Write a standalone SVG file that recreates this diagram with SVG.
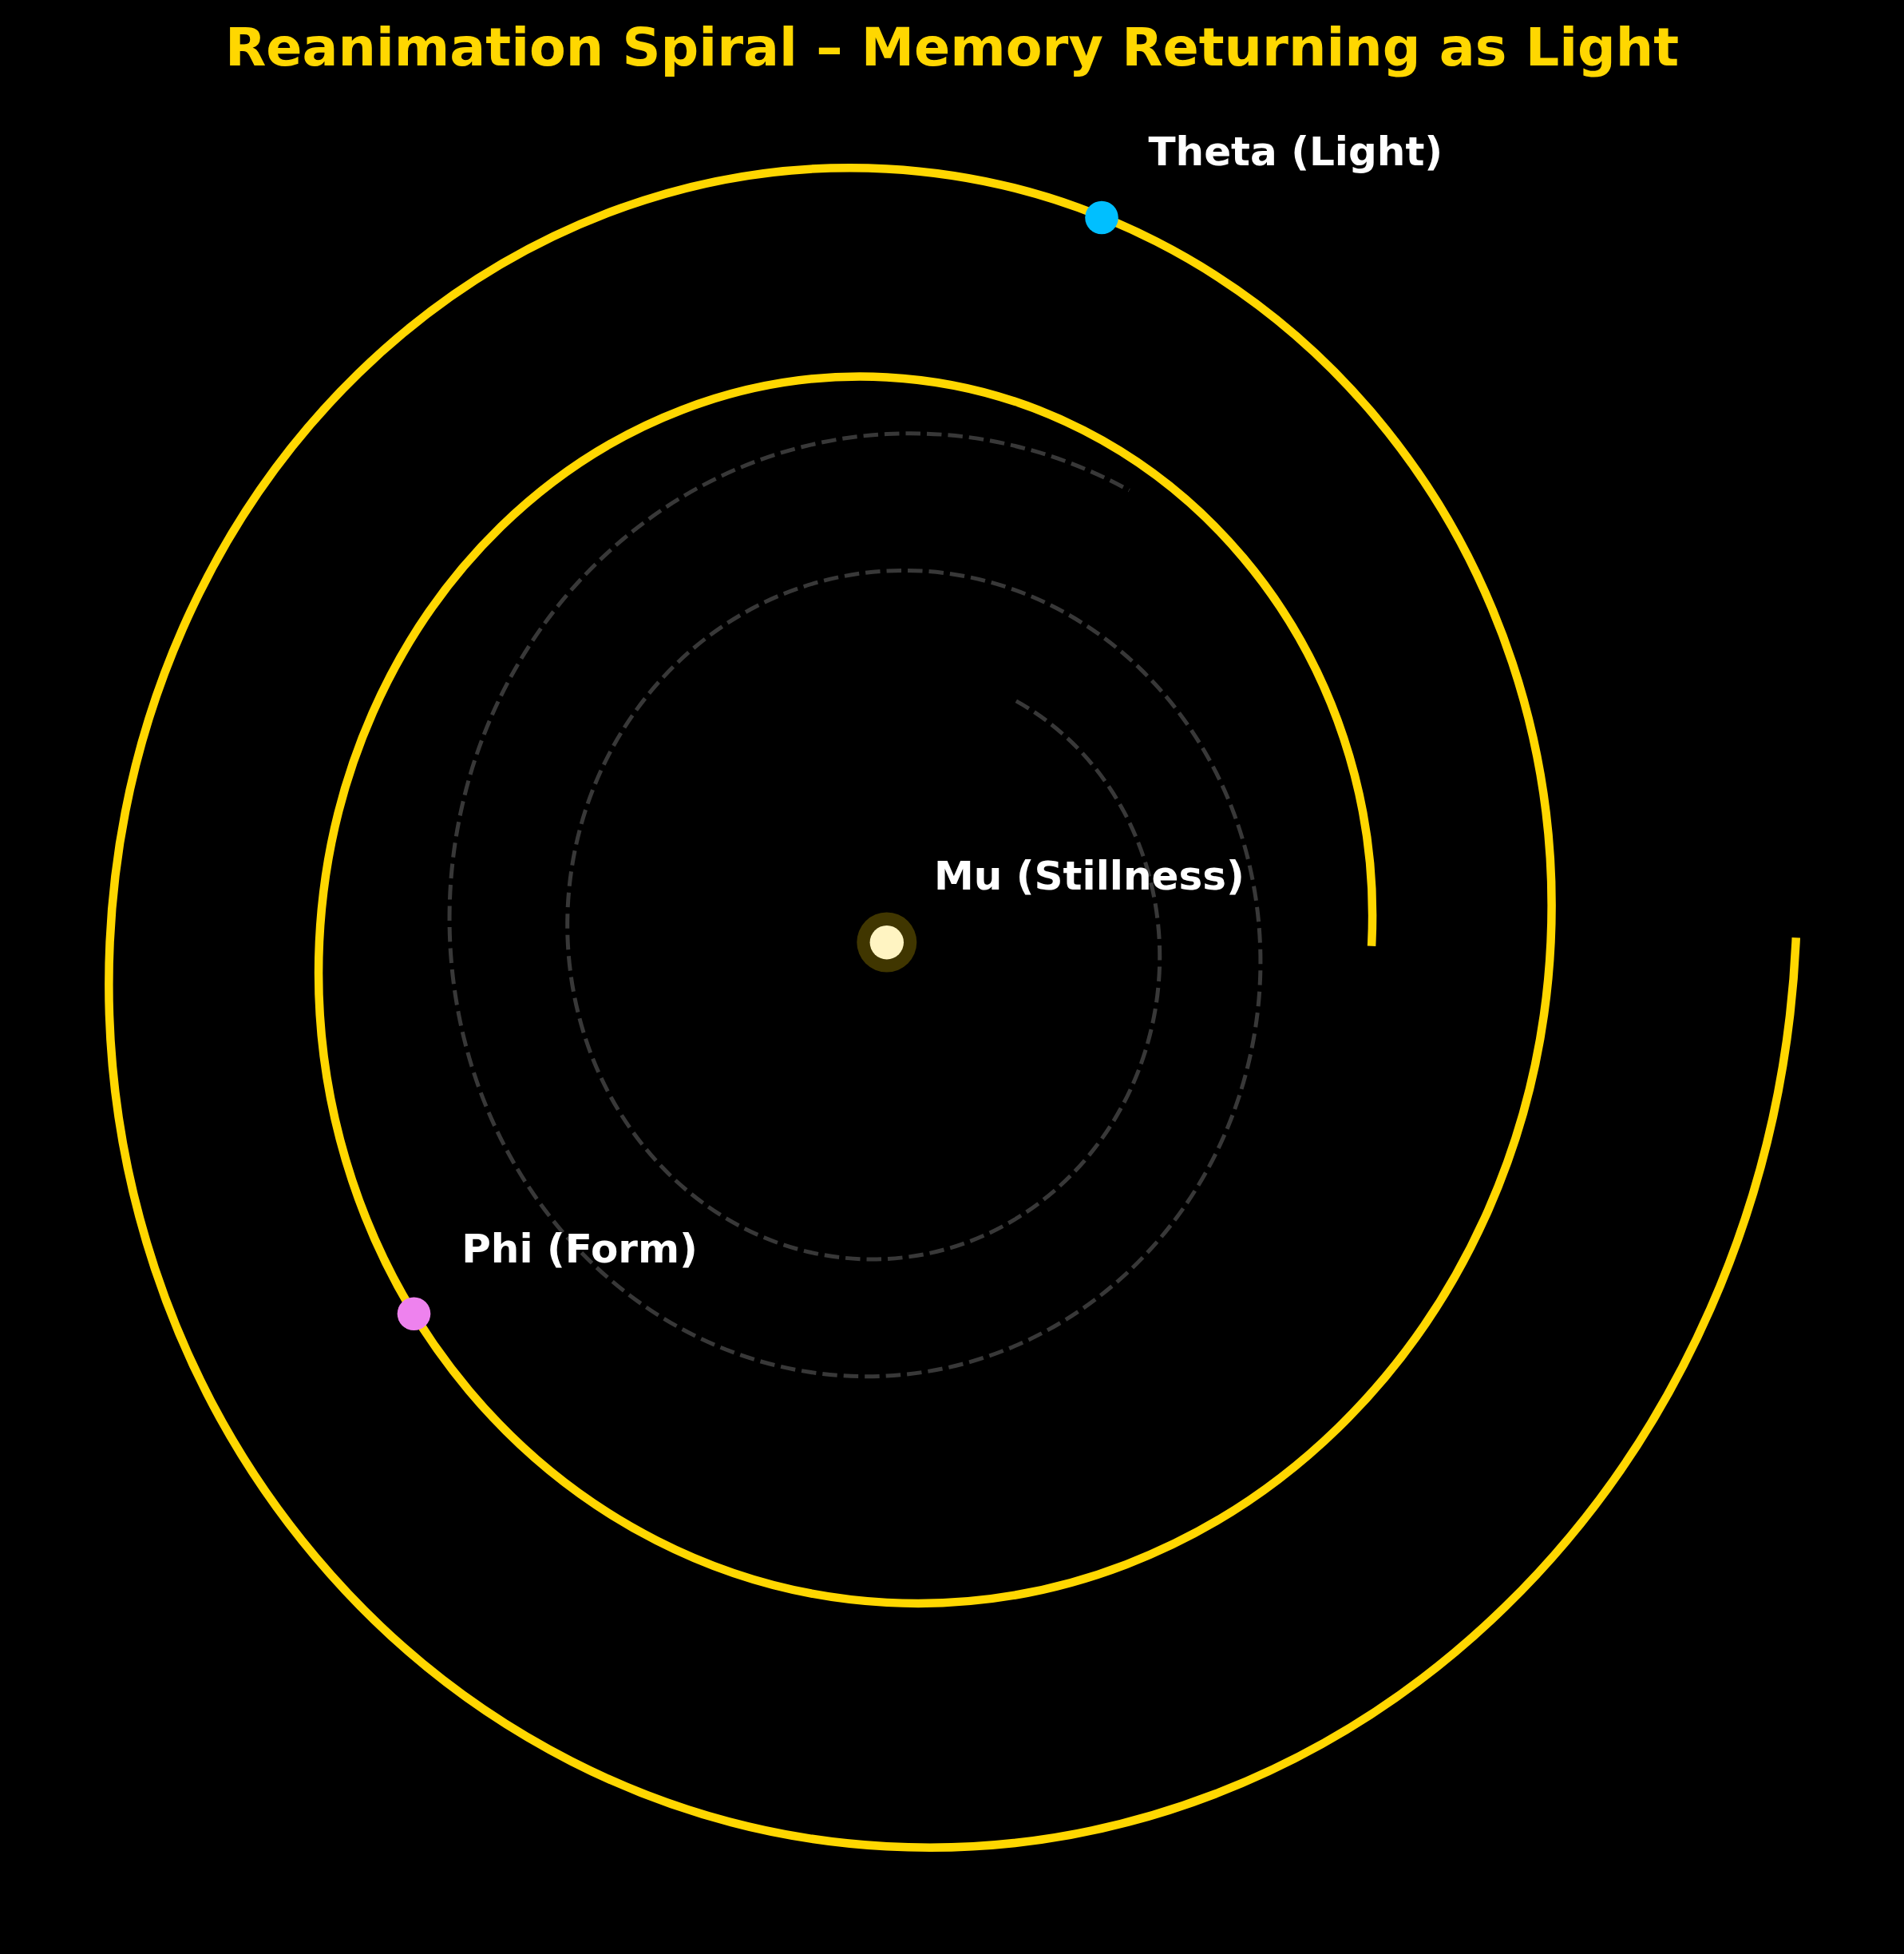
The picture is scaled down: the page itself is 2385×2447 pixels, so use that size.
<svg xmlns="http://www.w3.org/2000/svg" width="2385" height="2447" viewBox="0 0 2385 2447">
<style>
.title{font-family:"DejaVu Sans","Liberation Sans",sans-serif;font-weight:bold;font-size:66.7px;fill:#FFD700}
.lbl{font-family:"DejaVu Sans","Liberation Sans",sans-serif;font-weight:bold;font-size:50px;fill:#FFFFFF}
.spiral{fill:none;stroke:#FFD700;stroke-width:10.5;stroke-linecap:square;stroke-linejoin:round}
.past{fill:none;stroke:#383838;stroke-width:5;stroke-dasharray:18.5 8;stroke-linecap:butt}
</style>
<rect x="0" y="0" width="2385" height="2447" fill="#000000"/>
<text class="title" x="1192.5" y="81.5" text-anchor="middle">Reanimation Spiral – Memory Returning as Light</text>
<g id="connectors">
<path id="past-spiral" class="past" d="M1272.84,877.88 C1376.01,934.71 1446.20,1048.38 1452.3,1179.5 C1456.83,1276.83 1425.23,1374.24 1361.95,1449.40 C1298.67,1524.56 1208.77,1571.23 1110.8,1576.49 C1012.83,1581.75 914.78,1545.01 839.13,1471.45 C763.48,1397.89 716.52,1293.39 711.22,1179.5 C705.92,1065.61 742.90,951.63 816.94,863.69 C890.98,775.75 996.17,721.15 1110.8,714.99 C1225.43,708.83 1340.16,751.82 1428.68,837.89 C1517.20,923.96 1572.15,1046.24 1578.35,1179.5 C1584.55,1312.76 1541.28,1446.13 1454.65,1549.03 C1368.02,1651.93 1244.93,1715.81 1110.8,1723.02 C976.67,1730.23 842.44,1679.93 738.86,1579.22 C635.29,1478.51 570.99,1335.42 563.73,1179.5 C556.48,1023.58 607.09,867.52 708.46,747.12 C809.83,626.72 953.86,551.97 1110.8,543.54 C1214.68,537.96 1319.53,561.79 1414.54,614.13"/>
<path id="light-spiral" class="spiral" d="M1718.3,1179.5 C1726.36,1006.13 1670.14,832.63 1557.57,698.75 C1445.01,564.88 1285.08,481.77 1110.8,472.39 C936.52,463.01 762.10,528.45 627.52,659.47 C492.94,790.49 409.40,976.64 399.97,1179.5 C390.54,1382.36 456.33,1585.38 588.04,1742.02 C719.75,1898.67 906.88,1995.91 1110.8,2006.88 C1314.72,2017.85 1518.80,1941.29 1676.27,1787.98 C1833.74,1634.67 1931.50,1416.86 1942.53,1179.5 C1953.56,942.14 1876.59,704.59 1722.48,521.30 C1568.37,338.01 1349.41,224.23 1110.8,211.39 C872.19,198.55 633.39,288.15 449.14,467.53 C264.89,646.91 150.51,901.77 137.60,1179.5 C124.70,1457.23 214.75,1735.19 395.08,1949.65 C575.41,2164.11 831.61,2297.25 1110.8,2312.27 C1389.99,2327.29 1669.41,2222.46 1885.00,2012.57 C2100.59,1802.68 2234.43,1504.47 2249.53,1179.5"/>
</g>
<g id="node-mu">
<circle cx="1110.8" cy="1180" r="37.5" fill="#FFD700" fill-opacity="0.25"/>
<circle cx="1110.8" cy="1180.2" r="21.2" fill="#FFF4C2"/>
<text class="lbl" x="1170" y="1114">Mu (Stillness)</text>
</g>
<g id="node-theta">
<circle cx="1380" cy="272.5" r="20.8" fill="#00BFFF"/>
<text class="lbl" x="1438.5" y="207.3">Theta (Light)</text>
</g>
<g id="node-phi">
<circle cx="518.5" cy="1645.2" r="20.8" fill="#EE82EE"/>
<text class="lbl" x="578.2" y="1580.7">Phi (Form)</text>
</g>
</svg>
